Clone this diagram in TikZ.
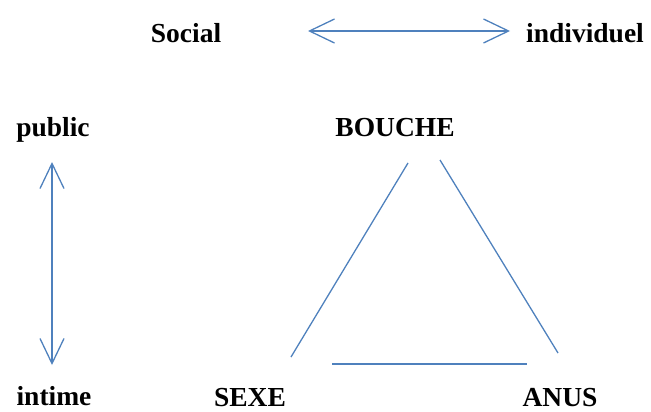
\documentclass[tikz,border=0pt]{standalone}
\usepackage{fontspec}
\setmainfont{Liberation Serif}
\usetikzlibrary{arrows.meta}
\definecolor{lineblue}{RGB}{79,129,189}
\tikzset{
  lbl/.style={font=\fontsize{27.5}{31}\selectfont\bfseries, text=black, anchor=base, inner sep=0pt},
  conn/.style={draw=lineblue, line width=1.3pt},
  dbl/.style={conn, {Straight Barb[length=25pt,width=24pt,line width=1.3pt]}-{Straight Barb[length=25pt,width=24pt,line width=1.3pt]}}
}
\begin{document}
\begin{tikzpicture}[x=1pt,y=-1pt]
\useasboundingbox (0,0) rectangle (651,412);
% labels
\node[lbl] (social) at (186,43) {Social};
\node[lbl] (indiv) at (585,43) {individuel};
\node[lbl] (public) at (53,136) {public};
\node[lbl] (intime) at (54,405) {intime};
\node[lbl] (bouche) at (395,136) {BOUCHE};
\node[lbl] (sexe) at (250,406) {SEXE};
\node[lbl] (anus) at (560,406) {ANUS};
% connector end points
\coordinate (hL) at (308,31);
\coordinate (hR) at (510,31);
\coordinate (vT) at (52,162);
\coordinate (vB) at (52,365);
\coordinate (bl1) at (408,163);
\coordinate (bl2) at (291,357);
\coordinate (br1) at (440,160);
\coordinate (br2) at (558,353);
\coordinate (bb1) at (332,364);
\coordinate (bb2) at (527,364);
% connectors
\draw[dbl] (hL) -- (hR);
\draw[dbl] (vT) -- (vB);
\draw[conn] (bl1) -- (bl2);
\draw[conn] (br1) -- (br2);
\draw[conn] (bb1) -- (bb2);
\end{tikzpicture}
\end{document}
